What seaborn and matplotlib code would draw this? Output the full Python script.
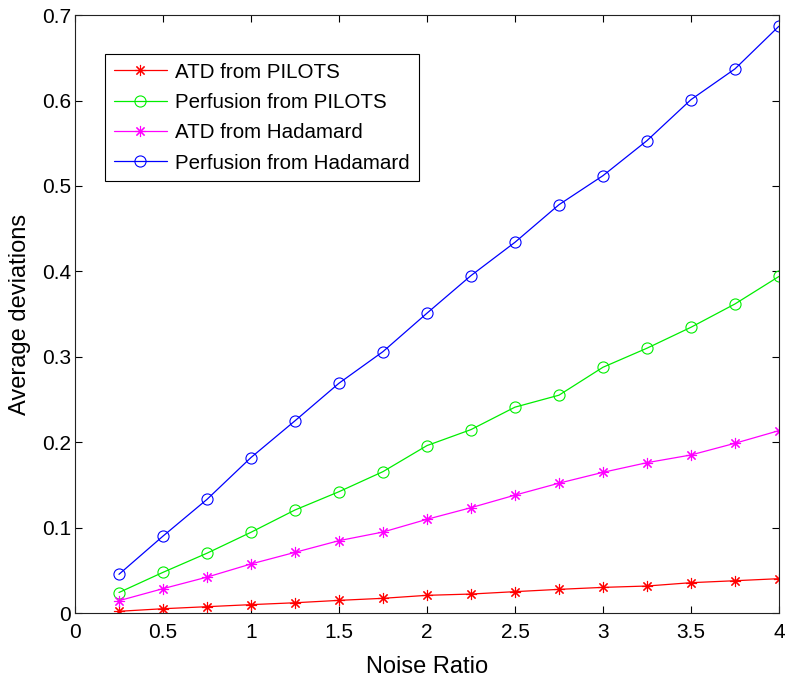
import numpy as np
import pandas as pd
import matplotlib
matplotlib.use("Agg")
import matplotlib.pyplot as plt
import seaborn as sns

# noise ratio values (x axis)
noise_ratio = [0.25, 0.5, 0.75, 1.0, 1.25, 1.5, 1.75, 2.0,
               2.25, 2.5, 2.75, 3.0, 3.25, 3.5, 3.75, 4.0]

# average deviations
atd_pilots = [0.002, 0.005, 0.0074, 0.0098, 0.012, 0.0148, 0.0172, 0.0207,
              0.0222, 0.025, 0.0277, 0.030, 0.0316, 0.0355, 0.0378, 0.0402]
perf_pilots = [0.024, 0.0476, 0.070, 0.0945, 0.1206, 0.142, 0.1655, 0.196,
               0.2147, 0.241, 0.255, 0.2877, 0.310, 0.3345, 0.3618, 0.394]
atd_hadamard = [0.0144, 0.0285, 0.042, 0.0574, 0.071, 0.0847, 0.0948, 0.1097,
                0.1233, 0.138, 0.152, 0.1647, 0.176, 0.185, 0.1987, 0.2135]
perf_hadamard = [0.0453, 0.090, 0.133, 0.182, 0.225, 0.269, 0.306, 0.351,
                 0.395, 0.434, 0.478, 0.512, 0.553, 0.601, 0.637, 0.687]

series_names = ["ATD from PILOTS", "Perfusion from PILOTS",
                "ATD from Hadamard", "Perfusion from Hadamard"]

xtick_vals = [0, 0.5, 1, 1.5, 2, 2.5, 3, 3.5, 4]
xtick_labels = ["0", "0.5", "1", "1.5", "2", "2.5", "3", "3.5", "4"]
ytick_vals = [0, 0.1, 0.2, 0.3, 0.4, 0.5, 0.6, 0.7]
ytick_labels = ["0", "0.1", "0.2", "0.3", "0.4", "0.5", "0.6", "0.7"]

# long table for seaborn
df = pd.DataFrame({
    "x": noise_ratio * 4,
    "y": atd_pilots + perf_pilots + atd_hadamard + perf_hadamard,
    "series": np.repeat(series_names, len(noise_ratio)),
})

sns.set_style("ticks")
plt.rcParams["font.family"] = ["Liberation Sans", "DejaVu Sans"]
plt.rcParams["text.color"] = "black"
plt.rcParams["axes.labelcolor"] = "black"

colors = {"ATD from PILOTS": "#ff0000",
          "Perfusion from PILOTS": "#00ee00",
          "ATD from Hadamard": "#ff00ff",
          "Perfusion from Hadamard": "#0000ff"}
markers = {"ATD from PILOTS": (8, 2, 0),
           "Perfusion from PILOTS": "o",
           "ATD from Hadamard": (8, 2, 0),
           "Perfusion from Hadamard": "o"}

fig = plt.figure(figsize=(7.95, 6.86), dpi=100)
ax = fig.add_axes([0.0943, 0.1064, 0.8855, 0.8716])

for name in series_names:
    sub = df[df["series"] == name]
    sns.lineplot(data=sub, x="x", y="y", ax=ax, color=colors[name],
                 marker=markers[name], markersize=8, markerfacecolor="none",
                 markeredgecolor=colors[name], markeredgewidth=0.8,
                 linewidth=0.9, label=name)

ax.set_xlim(0, 4)
ax.set_ylim(0, 0.7)
ax.set_xticks(xtick_vals)
ax.set_xticklabels(xtick_labels)
ax.set_yticks(ytick_vals)
ax.set_yticklabels(ytick_labels)
ax.tick_params(direction="in", length=5, width=0.8, top=True, right=True,
               labelsize=15, colors="black")
ax.tick_params(axis="x", pad=7)
ax.tick_params(axis="y", pad=3)
for sp in ax.spines.values():
    sp.set_visible(True)
    sp.set_linewidth(0.8)
    sp.set_color("#222222")

ax.set_xlabel("Noise Ratio", fontsize=17, labelpad=10)
ax.set_ylabel("Average deviations", fontsize=17, labelpad=8)

leg = ax.legend(loc="upper left", bbox_to_anchor=(0.0426, 0.935), fontsize=14.8,
                frameon=True, fancybox=False, framealpha=1, edgecolor="black",
                handlelength=2.6, borderpad=0.42, labelspacing=0.55,
                handletextpad=0.4, borderaxespad=0)
leg.get_frame().set_linewidth(0.8)

fig.savefig("out.png", dpi=100)
